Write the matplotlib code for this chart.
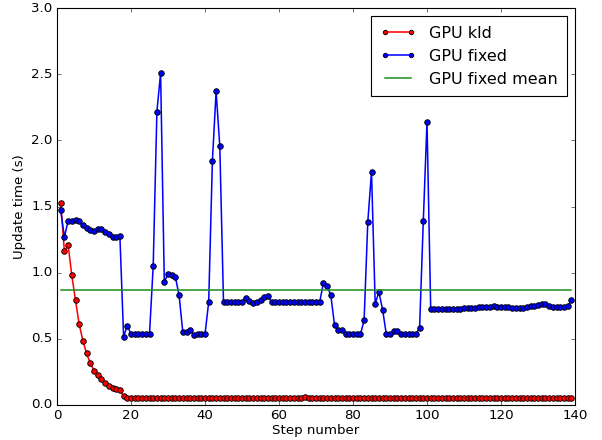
import numpy as np
import matplotlib
matplotlib.use('agg')
import matplotlib.pyplot as plt

# step numbers 1..139
steps = list(range(1, 140))

# GPU kld update times (s)
gpu_kld = [
    1.53, 1.16, 1.21, 0.98, 0.79, 0.61, 0.485, 0.39, 0.315, 0.26,
    0.225, 0.195, 0.167, 0.146, 0.129, 0.119, 0.111, 0.068, 0.052, 0.051,
    0.052, 0.052, 0.051, 0.052, 0.052, 0.052, 0.051, 0.052, 0.052, 0.052,
    0.051, 0.052, 0.052, 0.052, 0.052, 0.051, 0.052, 0.052, 0.052, 0.052,
    0.052, 0.051, 0.052, 0.052, 0.052, 0.052, 0.051, 0.052, 0.052, 0.052,
    0.052, 0.052, 0.051, 0.052, 0.052, 0.052, 0.052, 0.051, 0.052, 0.052,
    0.052, 0.052, 0.051, 0.052, 0.052, 0.053, 0.062, 0.052, 0.051, 0.051,
    0.050, 0.050, 0.051, 0.052, 0.052, 0.052, 0.052, 0.052, 0.052, 0.053,
    0.053, 0.054, 0.053, 0.054, 0.053, 0.053, 0.054, 0.053, 0.053, 0.052,
    0.052, 0.053, 0.052, 0.052, 0.052, 0.052, 0.052, 0.052, 0.052, 0.053,
    0.052, 0.052, 0.052, 0.052, 0.052, 0.052, 0.052, 0.052, 0.052, 0.052,
    0.052, 0.052, 0.052, 0.052, 0.052, 0.052, 0.052, 0.052, 0.052, 0.052,
    0.052, 0.052, 0.052, 0.052, 0.052, 0.052, 0.052, 0.052, 0.052, 0.052,
    0.052, 0.052, 0.052, 0.052, 0.052, 0.052, 0.052, 0.052, 0.052,
]

# GPU fixed update times (s)
gpu_fixed = [
    1.47, 1.27, 1.39, 1.39, 1.40, 1.39, 1.36, 1.335, 1.32, 1.315,
    1.33, 1.33, 1.305, 1.29, 1.27, 1.27, 1.275, 0.517, 0.60, 0.535,
    0.533, 0.533, 0.535, 0.54, 0.537, 1.05, 2.217, 2.507, 0.93, 0.99,
    0.98, 0.967, 0.83, 0.55, 0.55, 0.563, 0.53, 0.54, 0.54, 0.535,
    0.778, 1.846, 2.37, 1.955, 0.78, 0.78, 0.78, 0.78, 0.78, 0.78,
    0.81, 0.785, 0.77, 0.78, 0.79, 0.815, 0.82, 0.78, 0.775, 0.78,
    0.78, 0.78, 0.775, 0.78, 0.78, 0.78, 0.775, 0.775, 0.775, 0.775,
    0.78, 0.92, 0.90, 0.83, 0.606, 0.563, 0.563, 0.533, 0.54, 0.535,
    0.533, 0.533, 0.64, 1.384, 1.763, 0.765, 0.854, 0.72, 0.535, 0.535,
    0.558, 0.558, 0.533, 0.533, 0.535, 0.533, 0.533, 0.585, 1.39, 2.14,
    0.725, 0.725, 0.727, 0.727, 0.727, 0.727, 0.727, 0.727, 0.727, 0.73,
    0.73, 0.73, 0.733, 0.737, 0.737, 0.742, 0.742, 0.745, 0.743, 0.742,
    0.742, 0.74, 0.735, 0.735, 0.735, 0.733, 0.74, 0.745, 0.748, 0.755,
    0.76, 0.76, 0.745, 0.737, 0.737, 0.737, 0.737, 0.745, 0.79,
]

plt.style.use('classic')
plt.rcParams['font.family'] = ['DejaVu Sans']

fig = plt.figure(figsize=(602 / 80, 440 / 80), dpi=80, facecolor='white')
ax = fig.add_axes([57 / 602, 1 - 405 / 440, (575 - 57) / 602, (405 - 8) / 440])

fixed_mean = np.mean(gpu_fixed)

ax.plot(steps, gpu_kld, 'r-o', lw=1.4, markersize=5, mew=0.8, label='GPU kld')
ax.plot(steps, gpu_fixed, 'b-o', lw=1.4, markersize=5, mew=0.8, label='GPU fixed')
ax.plot(steps, [fixed_mean] * len(steps), '-', color='#1f8f1f', lw=1.4,
        label='GPU fixed mean')

ax.set_xlim(0, 140)
ax.set_ylim(0, 3.0)
ax.set_xticks(np.arange(0, 141, 20))
ax.set_yticks(np.arange(0, 3.01, 0.5))
ax.set_xlabel('Step number', labelpad=1)
ax.set_ylabel('Update time (s)')

ax.legend(loc='upper right', markerscale=0.8, handlelength=2.2,
          borderaxespad=0.5, borderpad=0.6)

plt.savefig('out.png', dpi=80, facecolor='white')
